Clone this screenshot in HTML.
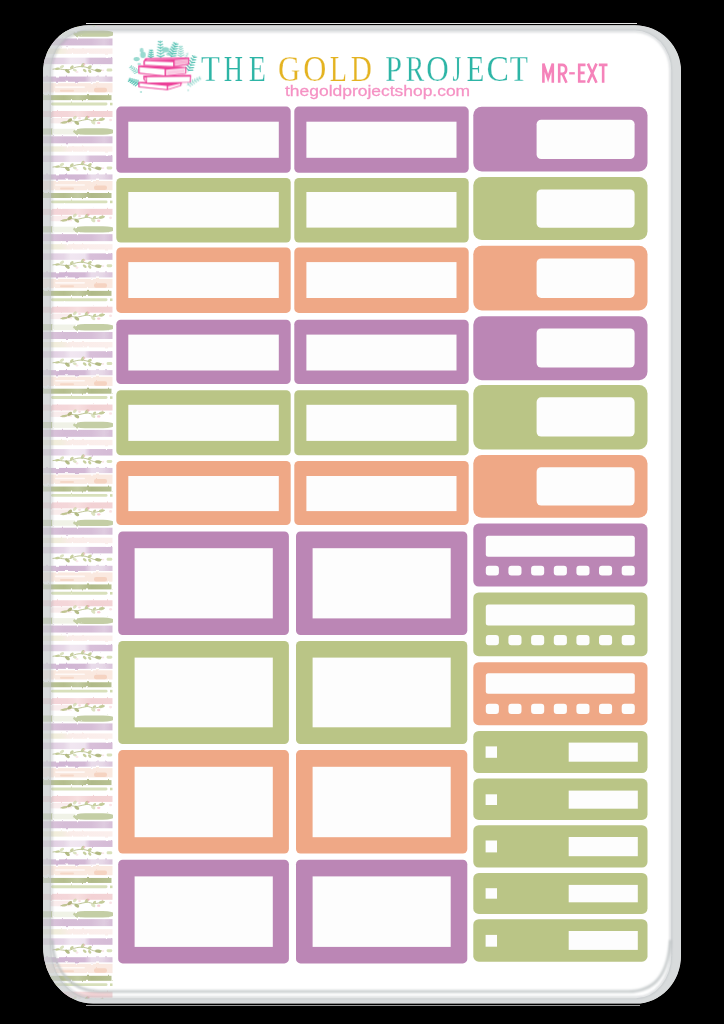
<!DOCTYPE html>
<html><head><meta charset="utf-8"><title>The Gold Project MR-EXT</title>
<style>
html,body{margin:0;padding:0;background:#000;}
body{width:724px;height:1024px;position:relative;overflow:hidden;font-family:"Liberation Sans",sans-serif;}
#sheet{position:absolute;left:0;top:0;width:724px;height:1024px;}
#st div{position:absolute;}
.t{position:absolute;white-space:nowrap;line-height:1;}
.serif{font-family:"Liberation Serif",serif;font-size:35px;}
</style></head><body>
<div style="position:absolute;left:86px;top:23px;width:551px;height:1px;background:#e6e6e6"></div>
<div style="position:absolute;left:86px;top:1005px;width:554px;height:1px;background:#9a9a9a"></div>
<svg id="sheet" viewBox="0 0 724 1024" width="724" height="1024">
<defs><clipPath id="shc"><path d="M43 72.2A45 47 0 0 1 88 25.2H635A46 46 0 0 1 681 71.2V955.6A45 48 0 0 1 636 1003.6H93A50 57 0 0 1 43 946.6Z"/></clipPath></defs>
<path d="M43 72.2A45 47 0 0 1 88 25.2H635A46 46 0 0 1 681 71.2V955.6A45 48 0 0 1 636 1003.6H93A50 57 0 0 1 43 946.6Z" fill="#fff"/>
<g clip-path="url(#shc)">
<svg x="43" y="24.600" width="70" height="974.400" viewBox="43 24.600 70 974.400">
<defs>
<filter id="wc" x="-5%" y="-5%" width="110%" height="110%"><feTurbulence type="fractalNoise" baseFrequency="0.2 0.07" numOctaves="2" seed="7" result="n"/><feDisplacementMap in="SourceGraphic" in2="n" scale="2.0" xChannelSelector="R" yChannelSelector="G"/><feGaussianBlur stdDeviation="0.55"/></filter>
<filter id="wc2" x="-5%" y="-20%" width="110%" height="140%"><feGaussianBlur stdDeviation="0.5"/></filter>
<linearGradient id="gPink"><stop offset="0" stop-color="#F2CED2"/><stop offset="0.35" stop-color="#F3D0D3"/><stop offset="0.5" stop-color="#F6DADB"/><stop offset="0.7" stop-color="#F1CACD"/><stop offset="1" stop-color="#F2CDD0"/></linearGradient>
<linearGradient id="gPur1"><stop offset="0" stop-color="#D6BDD7"/><stop offset="0.3" stop-color="#CFB2D0"/><stop offset="0.7" stop-color="#D0B4D1"/><stop offset="0.88" stop-color="#DAC4DB"/><stop offset="1" stop-color="#D0B3D1"/></linearGradient>
<linearGradient id="gCream"><stop offset="0" stop-color="#ECEBD2"/><stop offset="0.25" stop-color="#F0EBD8"/><stop offset="0.4" stop-color="#FAEAE6"/><stop offset="1" stop-color="#FBEDEA"/></linearGradient>
<linearGradient id="gPur2"><stop offset="0" stop-color="#D9C2DA"/><stop offset="0.3" stop-color="#E2D0E3"/><stop offset="0.4" stop-color="#EFE3EF"/><stop offset="0.6" stop-color="#ECDFED"/><stop offset="0.68" stop-color="#D2B5D3"/><stop offset="1" stop-color="#CFB1D0"/></linearGradient>
<linearGradient id="gPur3"><stop offset="0" stop-color="#D9C3DA"/><stop offset="0.25" stop-color="#C9A9CC"/><stop offset="0.6" stop-color="#CCAECF"/><stop offset="0.7" stop-color="#E6D6E7"/><stop offset="0.85" stop-color="#E3D2E4"/><stop offset="1" stop-color="#D3B9D4"/></linearGradient>
<linearGradient id="gOlive"><stop offset="0" stop-color="#B3BD8A"/><stop offset="0.3" stop-color="#A8B37A"/><stop offset="0.5" stop-color="#B7C190"/><stop offset="0.7" stop-color="#A3AE74"/><stop offset="1" stop-color="#ADB882"/></linearGradient>
<g id="per"><g filter="url(#wc)" opacity="0.86">
<rect x="43" y="111" width="69.500" height="6" fill="url(#gPink)"/>
<rect x="50" y="118" width="22" height="5.400" fill="#F8E4E4" opacity="0.8"/>
<rect x="43" y="128.400" width="9.500" height="6.200" fill="#B9C494"/>
<rect x="52" y="128.800" width="24" height="5.600" fill="#EEF1E4"/>
<rect x="73" y="128.300" width="42" height="6.400" rx="12" ry="3.200" fill="#BBC697"/>
<rect x="43" y="136.300" width="69.500" height="7" fill="url(#gPur1)"/>
<rect x="43" y="146.300" width="69.500" height="5.400" fill="url(#gCream)"/>
<rect x="43" y="155.500" width="69.500" height="6.500" fill="url(#gPur2)"/>
<rect x="43" y="174.400" width="69.500" height="5.200" fill="url(#gPur3)"/>
<rect x="43" y="181" width="69.500" height="9.300" fill="#FAE6DC"/>
<rect x="55" y="184.200" width="30" height="1.600" rx="0.800" fill="#fff" opacity="0.7"/>
<rect x="94" y="185.500" width="13" height="4.500" rx="2" fill="#F3C9B4" opacity="0.9"/>
<rect x="60" y="187.500" width="14" height="2" rx="1" fill="#F3CDB9" opacity="0.8"/>
<rect x="43" y="193" width="69.500" height="5" fill="url(#gOlive)"/>
<rect x="51" y="200.400" width="56.500" height="2.900" rx="1.400" fill="#D2DBB0"/>
<rect x="110" y="200.600" width="2.500" height="2.600" fill="#C9D3A0"/>
</g><g filter="url(#wc2)" opacity="0.72">
<path d="M52.900 167 C60 165.500 66 169.500 72 166.500 S85 164 90 166.500 S98 168.500 101.600 168" fill="none" stroke="#8C9848" stroke-width="0.9" stroke-linecap="round" opacity="0.85"/>
<ellipse cx="61.9" cy="164.6" rx="2.4" ry="1.43" transform="rotate(-30 61.9 164.6)" fill="#C9D3A0" opacity="0.9"/>
<ellipse cx="57.5" cy="166.6" rx="2.4" ry="1.17" transform="rotate(-10 57.5 166.6)" fill="#A9B56C" opacity="0.9"/>
<ellipse cx="67.4" cy="168.9" rx="2.76" ry="1.56" transform="rotate(35 67.4 168.9)" fill="#8C9848" opacity="0.9"/>
<ellipse cx="71.8" cy="165.0" rx="2.16" ry="1.3" transform="rotate(-40 71.8 165.0)" fill="#A9B56C" opacity="0.9"/>
<ellipse cx="74.8" cy="168.0" rx="2.16" ry="1.3" transform="rotate(20 74.8 168.0)" fill="#C9D3A0" opacity="0.9"/>
<ellipse cx="82.8" cy="163.0" rx="2.4" ry="1.56" transform="rotate(-50 82.8 163.0)" fill="#A9B56C" opacity="0.9"/>
<ellipse cx="84.7" cy="168.4" rx="2.16" ry="1.3" transform="rotate(40 84.7 168.4)" fill="#A9B56C" opacity="0.9"/>
<ellipse cx="89.7" cy="164.9" rx="2.28" ry="1.43" transform="rotate(-30 89.7 164.9)" fill="#A9B56C" opacity="0.9"/>
<ellipse cx="89.7" cy="169.0" rx="2.04" ry="1.3" transform="rotate(50 89.7 169.0)" fill="#A9B56C" opacity="0.9"/>
<ellipse cx="98.2" cy="168.4" rx="3.12" ry="1.69" transform="rotate(10 98.2 168.4)" fill="#8C9848" opacity="0.9"/>
<ellipse cx="84.3" cy="162.3" rx="1.08" ry="0.91" transform="rotate(0 84.3 162.3)" fill="#EFB4BC" opacity="0.9"/>
<ellipse cx="77" cy="169.8" rx="1.44" ry="1.04" transform="rotate(0 77 169.8)" fill="#F6DADF" opacity="0.9"/>
<ellipse cx="103" cy="168.2" rx="1.2" ry="0.91" transform="rotate(0 103 168.2)" fill="#F6DADF" opacity="0.9"/>
<rect x="106.600" y="166.400" width="5.700" height="3" rx="1.400" fill="#CBD6A2"/>
<path d="M60.900 122.900 C64 122.500 67 121.300 69.800 120.900 S75 121.800 77.800 121.400 S84 119.600 86.700 119.400 S92 121.200 94.700 120.900 S101 119.400 104.600 118.900" fill="none" stroke="#8C9848" stroke-width="0.9" stroke-linecap="round" opacity="0.85"/>
<ellipse cx="64.5" cy="122.5" rx="3.12" ry="1.17" transform="rotate(-8 64.5 122.5)" fill="#A9B56C" opacity="0.9"/>
<ellipse cx="69.8" cy="120.3" rx="2.64" ry="1.56" transform="rotate(-35 69.8 120.3)" fill="#8C9848" opacity="0.9"/>
<ellipse cx="76.8" cy="122.9" rx="2.64" ry="1.56" transform="rotate(30 76.8 122.9)" fill="#8C9848" opacity="0.9"/>
<ellipse cx="74.8" cy="117.6" rx="2.28" ry="1.43" transform="rotate(-40 74.8 117.6)" fill="#C9D3A0" opacity="0.9"/>
<ellipse cx="86.7" cy="118.0" rx="2.4" ry="1.56" transform="rotate(-45 86.7 118.0)" fill="#A9B56C" opacity="0.9"/>
<ellipse cx="93.2" cy="122.5" rx="2.4" ry="1.56" transform="rotate(35 93.2 122.5)" fill="#C9D3A0" opacity="0.9"/>
<ellipse cx="94.5" cy="119.5" rx="1.8" ry="1.17" transform="rotate(-30 94.5 119.5)" fill="#A9B56C" opacity="0.9"/>
<ellipse cx="101.6" cy="119.4" rx="2.76" ry="1.56" transform="rotate(-10 101.6 119.4)" fill="#A9B56C" opacity="0.9"/>
<ellipse cx="88.4" cy="117.0" rx="1.2" ry="1.04" transform="rotate(0 88.4 117.0)" fill="#E9A0AE" opacity="0.9"/>
<ellipse cx="98.7" cy="122.9" rx="1.68" ry="1.17" transform="rotate(0 98.7 122.9)" fill="#EFB4BC" opacity="0.9"/>
<ellipse cx="110.6" cy="120" rx="1.44" ry="1.3" transform="rotate(0 110.6 120)" fill="#F6D5D8" opacity="0.9"/>
<ellipse cx="79.5" cy="118.3" rx="1.44" ry="1.04" transform="rotate(0 79.5 118.3)" fill="#F3C6CC" opacity="0.8"/>
</g></g>
</defs>
<use href="#per" transform="translate(0 -97.85)"/>
<use href="#per" transform="translate(0 0.00)"/>
<use href="#per" transform="translate(0 97.85)"/>
<use href="#per" transform="translate(0 195.70)"/>
<use href="#per" transform="translate(0 293.55)"/>
<use href="#per" transform="translate(0 391.40)"/>
<use href="#per" transform="translate(0 489.25)"/>
<use href="#per" transform="translate(0 587.10)"/>
<use href="#per" transform="translate(0 684.95)"/>
<use href="#per" transform="translate(0 782.80)"/>
<use href="#per" transform="translate(0 880.65)"/>
</svg>
</g>
</svg>
<svg style="position:absolute;left:0;top:0" width="724" height="1024" viewBox="0 0 724 1024">
<defs><filter id="bl" x="-5%" y="-5%" width="110%" height="110%"><feGaussianBlur stdDeviation="0.8"/></filter>
</defs>
<g clip-path="url(#shc)">
<path fill-rule="evenodd" fill="rgba(198,202,204,0.68)" d="M43 72.2A45 47 0 0 1 88 25.2H635A46 46 0 0 1 681 71.2V955.6A45 48 0 0 1 636 1003.6H93A50 57 0 0 1 43 946.6Z M51 71.6A37 41 0 0 1 88 30.6H635.0A36.2 40 0 0 1 671.2 70.6V955.6A35.2 42.6 0 0 1 636.0 998.2H93A42 51.6 0 0 1 51 946.6Z"/>
<path fill="none" stroke="rgba(165,172,175,0.5)" stroke-width="2.0" filter="url(#bl)" d="M51.6 71.6A36.4 40.4 0 0 1 88.0 31.2H635.0A35.6 39.4 0 0 1 670.6 70.6V955.6A34.6 42 0 0 1 636.0 997.6H93.0A41.4 51 0 0 1 51.6 946.6Z"/>
<path fill="none" stroke="rgba(185,190,192,0.85)" stroke-width="2.6" filter="url(#bl)" d="M52 940 C 54 975, 75 991.5, 100 991.5 H 628 C 655 991.500, 668 975, 670.500 940"/>
</g>
</svg>
<svg style="position:absolute;left:125px;top:35px" width="80" height="60" viewBox="0 0 724 543"><defs><filter id="lb"><feGaussianBlur stdDeviation="2.6"/></filter></defs><g filter="url(#lb)">
<path d="M322 215L318 48" stroke="#4FBFB0" stroke-width="3.5" fill="none" opacity="0.8" stroke-linecap="round"/>
<path d="M321.6 199.1L353.4 183.1" stroke="#4FBFB0" stroke-width="11.0" stroke-linecap="round" opacity="0.8"/>
<path d="M321.6 199.1L289.1 184.6" stroke="#4FBFB0" stroke-width="11.0" stroke-linecap="round" opacity="0.8"/>
<path d="M321.0 172.6L349.8 158.1" stroke="#4FBFB0" stroke-width="11.0" stroke-linecap="round" opacity="0.8"/>
<path d="M321.0 172.6L291.5 159.5" stroke="#4FBFB0" stroke-width="11.0" stroke-linecap="round" opacity="0.8"/>
<path d="M320.3 146.1L346.3 133.0" stroke="#4FBFB0" stroke-width="11.0" stroke-linecap="round" opacity="0.8"/>
<path d="M320.3 146.1L293.8 134.3" stroke="#4FBFB0" stroke-width="11.0" stroke-linecap="round" opacity="0.8"/>
<path d="M319.7 119.6L342.7 108.0" stroke="#4FBFB0" stroke-width="11.0" stroke-linecap="round" opacity="0.8"/>
<path d="M319.7 119.6L296.2 109.1" stroke="#4FBFB0" stroke-width="11.0" stroke-linecap="round" opacity="0.8"/>
<path d="M319.1 93.1L339.1 83.0" stroke="#4FBFB0" stroke-width="11.0" stroke-linecap="round" opacity="0.8"/>
<path d="M319.1 93.1L298.6 83.9" stroke="#4FBFB0" stroke-width="11.0" stroke-linecap="round" opacity="0.8"/>
<path d="M318.4 66.6L335.6 57.9" stroke="#4FBFB0" stroke-width="11.0" stroke-linecap="round" opacity="0.8"/>
<path d="M318.4 66.6L300.9 58.8" stroke="#4FBFB0" stroke-width="11.0" stroke-linecap="round" opacity="0.8"/>
<path d="M415 205L462 68" stroke="#4FBFB0" stroke-width="3.5" fill="none" opacity="0.9" stroke-linecap="round"/>
<path d="M419.5 192.0L459.0 187.5" stroke="#4FBFB0" stroke-width="12.100000000000001" stroke-linecap="round" opacity="0.9"/>
<path d="M419.5 192.0L391.0 164.2" stroke="#4FBFB0" stroke-width="12.100000000000001" stroke-linecap="round" opacity="0.9"/>
<path d="M426.9 170.2L462.8 166.2" stroke="#4FBFB0" stroke-width="12.100000000000001" stroke-linecap="round" opacity="0.9"/>
<path d="M426.9 170.2L401.1 145.0" stroke="#4FBFB0" stroke-width="12.100000000000001" stroke-linecap="round" opacity="0.9"/>
<path d="M434.4 148.5L466.6 144.8" stroke="#4FBFB0" stroke-width="12.100000000000001" stroke-linecap="round" opacity="0.9"/>
<path d="M434.4 148.5L411.2 125.8" stroke="#4FBFB0" stroke-width="12.100000000000001" stroke-linecap="round" opacity="0.9"/>
<path d="M441.9 126.7L470.4 123.5" stroke="#4FBFB0" stroke-width="12.100000000000001" stroke-linecap="round" opacity="0.9"/>
<path d="M441.9 126.7L421.3 106.6" stroke="#4FBFB0" stroke-width="12.100000000000001" stroke-linecap="round" opacity="0.9"/>
<path d="M449.3 105.0L474.3 102.2" stroke="#4FBFB0" stroke-width="12.100000000000001" stroke-linecap="round" opacity="0.9"/>
<path d="M449.3 105.0L431.3 87.4" stroke="#4FBFB0" stroke-width="12.100000000000001" stroke-linecap="round" opacity="0.9"/>
<path d="M456.8 83.2L478.1 80.8" stroke="#4FBFB0" stroke-width="12.100000000000001" stroke-linecap="round" opacity="0.9"/>
<path d="M456.8 83.2L441.4 68.3" stroke="#4FBFB0" stroke-width="12.100000000000001" stroke-linecap="round" opacity="0.9"/>
<path d="M505 205L503 95" stroke="#8ED6CB" stroke-width="3.5" fill="none" opacity="0.9" stroke-linecap="round"/>
<path d="M504.8 192.5L532.6 178.7" stroke="#8ED6CB" stroke-width="9.9" stroke-linecap="round" opacity="0.9"/>
<path d="M504.8 192.5L476.5 179.8" stroke="#8ED6CB" stroke-width="9.9" stroke-linecap="round" opacity="0.9"/>
<path d="M504.4 171.8L529.1 159.5" stroke="#8ED6CB" stroke-width="9.9" stroke-linecap="round" opacity="0.9"/>
<path d="M504.4 171.8L479.2 160.4" stroke="#8ED6CB" stroke-width="9.9" stroke-linecap="round" opacity="0.9"/>
<path d="M504.0 151.0L525.7 140.3" stroke="#8ED6CB" stroke-width="9.9" stroke-linecap="round" opacity="0.9"/>
<path d="M504.0 151.0L482.0 141.1" stroke="#8ED6CB" stroke-width="9.9" stroke-linecap="round" opacity="0.9"/>
<path d="M503.6 130.3L522.2 121.1" stroke="#8ED6CB" stroke-width="9.9" stroke-linecap="round" opacity="0.9"/>
<path d="M503.6 130.3L484.7 121.7" stroke="#8ED6CB" stroke-width="9.9" stroke-linecap="round" opacity="0.9"/>
<path d="M503.3 109.5L518.8 101.8" stroke="#8ED6CB" stroke-width="9.9" stroke-linecap="round" opacity="0.9"/>
<path d="M503.3 109.5L487.5 102.4" stroke="#8ED6CB" stroke-width="9.9" stroke-linecap="round" opacity="0.9"/>
<path d="M232 215L236 130" stroke="#4FBFB0" stroke-width="3.5" fill="none" opacity="0.9" stroke-linecap="round"/>
<path d="M232.6 203.1L257.0 192.9" stroke="#4FBFB0" stroke-width="11.0" stroke-linecap="round" opacity="0.9"/>
<path d="M232.6 203.1L209.2 190.7" stroke="#4FBFB0" stroke-width="11.0" stroke-linecap="round" opacity="0.9"/>
<path d="M233.5 183.4L254.6 174.6" stroke="#4FBFB0" stroke-width="11.0" stroke-linecap="round" opacity="0.9"/>
<path d="M233.5 183.4L213.3 172.6" stroke="#4FBFB0" stroke-width="11.0" stroke-linecap="round" opacity="0.9"/>
<path d="M234.4 163.6L252.1 156.2" stroke="#4FBFB0" stroke-width="11.0" stroke-linecap="round" opacity="0.9"/>
<path d="M234.4 163.6L217.5 154.6" stroke="#4FBFB0" stroke-width="11.0" stroke-linecap="round" opacity="0.9"/>
<path d="M235.3 143.8L249.6 137.9" stroke="#4FBFB0" stroke-width="11.0" stroke-linecap="round" opacity="0.9"/>
<path d="M235.3 143.8L221.7 136.6" stroke="#4FBFB0" stroke-width="11.0" stroke-linecap="round" opacity="0.9"/>
<path d="M545 215L568 160" stroke="#8ED6CB" stroke-width="3.5" fill="none" opacity="0.8" stroke-linecap="round"/>
<path d="M549.2 205.0L561.1 204.4" stroke="#8ED6CB" stroke-width="6.6000000000000005" stroke-linecap="round" opacity="0.8"/>
<path d="M549.2 205.0L541.2 196.1" stroke="#8ED6CB" stroke-width="6.6000000000000005" stroke-linecap="round" opacity="0.8"/>
<path d="M556.2 188.3L565.9 187.9" stroke="#8ED6CB" stroke-width="6.6000000000000005" stroke-linecap="round" opacity="0.8"/>
<path d="M556.2 188.3L549.7 181.1" stroke="#8ED6CB" stroke-width="6.6000000000000005" stroke-linecap="round" opacity="0.8"/>
<path d="M563.1 171.7L570.6 171.3" stroke="#8ED6CB" stroke-width="6.6000000000000005" stroke-linecap="round" opacity="0.8"/>
<path d="M563.1 171.7L558.1 166.1" stroke="#8ED6CB" stroke-width="6.6000000000000005" stroke-linecap="round" opacity="0.8"/>
<path d="M570 335L632 185" stroke="#4FBFB0" stroke-width="3.5" fill="none" opacity="0.9" stroke-linecap="round"/>
<path d="M575.9 320.7L613.5 318.8" stroke="#4FBFB0" stroke-width="11.0" stroke-linecap="round" opacity="0.9"/>
<path d="M575.9 320.7L550.6 292.8" stroke="#4FBFB0" stroke-width="11.0" stroke-linecap="round" opacity="0.9"/>
<path d="M585.7 296.9L619.9 295.2" stroke="#4FBFB0" stroke-width="11.0" stroke-linecap="round" opacity="0.9"/>
<path d="M585.7 296.9L562.8 271.6" stroke="#4FBFB0" stroke-width="11.0" stroke-linecap="round" opacity="0.9"/>
<path d="M595.6 273.1L626.3 271.5" stroke="#4FBFB0" stroke-width="11.0" stroke-linecap="round" opacity="0.9"/>
<path d="M595.6 273.1L575.0 250.3" stroke="#4FBFB0" stroke-width="11.0" stroke-linecap="round" opacity="0.9"/>
<path d="M605.4 249.3L632.6 247.9" stroke="#4FBFB0" stroke-width="11.0" stroke-linecap="round" opacity="0.9"/>
<path d="M605.4 249.3L587.1 229.1" stroke="#4FBFB0" stroke-width="11.0" stroke-linecap="round" opacity="0.9"/>
<path d="M615.3 225.5L639.0 224.3" stroke="#4FBFB0" stroke-width="11.0" stroke-linecap="round" opacity="0.9"/>
<path d="M615.3 225.5L599.3 207.9" stroke="#4FBFB0" stroke-width="11.0" stroke-linecap="round" opacity="0.9"/>
<path d="M625.1 201.7L645.4 200.6" stroke="#4FBFB0" stroke-width="11.0" stroke-linecap="round" opacity="0.9"/>
<path d="M625.1 201.7L611.5 186.6" stroke="#4FBFB0" stroke-width="11.0" stroke-linecap="round" opacity="0.9"/>
<path d="M128 445L32 402" stroke="#4FBFB0" stroke-width="3.5" fill="none" opacity="0.95" stroke-linecap="round"/>
<path d="M117.1 440.1L116.5 409.1" stroke="#4FBFB0" stroke-width="11.0" stroke-linecap="round" opacity="0.95"/>
<path d="M117.1 440.1L93.5 460.3" stroke="#4FBFB0" stroke-width="11.0" stroke-linecap="round" opacity="0.95"/>
<path d="M99.0 432.0L98.4 404.4" stroke="#4FBFB0" stroke-width="11.0" stroke-linecap="round" opacity="0.95"/>
<path d="M99.0 432.0L78.0 450.0" stroke="#4FBFB0" stroke-width="11.0" stroke-linecap="round" opacity="0.95"/>
<path d="M80.9 423.9L80.4 399.7" stroke="#4FBFB0" stroke-width="11.0" stroke-linecap="round" opacity="0.95"/>
<path d="M80.9 423.9L62.5 439.6" stroke="#4FBFB0" stroke-width="11.0" stroke-linecap="round" opacity="0.95"/>
<path d="M62.8 415.8L62.4 395.1" stroke="#4FBFB0" stroke-width="11.0" stroke-linecap="round" opacity="0.95"/>
<path d="M62.8 415.8L47.0 429.3" stroke="#4FBFB0" stroke-width="11.0" stroke-linecap="round" opacity="0.95"/>
<path d="M44.7 407.7L44.3 390.4" stroke="#4FBFB0" stroke-width="11.0" stroke-linecap="round" opacity="0.95"/>
<path d="M44.7 407.7L31.5 418.9" stroke="#4FBFB0" stroke-width="11.0" stroke-linecap="round" opacity="0.95"/>
<path d="M118 345L45 282" stroke="#8ED6CB" stroke-width="3.5" fill="none" opacity="0.85" stroke-linecap="round"/>
<path d="M109.7 337.9L116.9 311.9" stroke="#8ED6CB" stroke-width="9.9" stroke-linecap="round" opacity="0.85"/>
<path d="M109.7 337.9L85.1 348.8" stroke="#8ED6CB" stroke-width="9.9" stroke-linecap="round" opacity="0.85"/>
<path d="M96.0 326.0L102.3 302.9" stroke="#8ED6CB" stroke-width="9.9" stroke-linecap="round" opacity="0.85"/>
<path d="M96.0 326.0L74.1 335.7" stroke="#8ED6CB" stroke-width="9.9" stroke-linecap="round" opacity="0.85"/>
<path d="M82.2 314.1L87.8 293.9" stroke="#8ED6CB" stroke-width="9.9" stroke-linecap="round" opacity="0.85"/>
<path d="M82.2 314.1L63.0 322.6" stroke="#8ED6CB" stroke-width="9.9" stroke-linecap="round" opacity="0.85"/>
<path d="M68.4 302.2L73.2 284.9" stroke="#8ED6CB" stroke-width="9.9" stroke-linecap="round" opacity="0.85"/>
<path d="M68.4 302.2L52.0 309.5" stroke="#8ED6CB" stroke-width="9.9" stroke-linecap="round" opacity="0.85"/>
<path d="M54.6 290.3L58.6 275.9" stroke="#8ED6CB" stroke-width="9.9" stroke-linecap="round" opacity="0.85"/>
<path d="M54.6 290.3L40.9 296.4" stroke="#8ED6CB" stroke-width="9.9" stroke-linecap="round" opacity="0.85"/>
<path d="M560 455L688 385" stroke="#8ED6CB" stroke-width="3.5" fill="none" opacity="0.85" stroke-linecap="round"/>
<path d="M572.2 448.3L594.2 464.3" stroke="#8ED6CB" stroke-width="9.9" stroke-linecap="round" opacity="0.85"/>
<path d="M572.2 448.3L570.6 421.2" stroke="#8ED6CB" stroke-width="9.9" stroke-linecap="round" opacity="0.85"/>
<path d="M592.5 437.2L612.5 451.7" stroke="#8ED6CB" stroke-width="9.9" stroke-linecap="round" opacity="0.85"/>
<path d="M592.5 437.2L591.1 412.6" stroke="#8ED6CB" stroke-width="9.9" stroke-linecap="round" opacity="0.85"/>
<path d="M612.8 426.1L630.8 439.1" stroke="#8ED6CB" stroke-width="9.9" stroke-linecap="round" opacity="0.85"/>
<path d="M612.8 426.1L611.5 404.0" stroke="#8ED6CB" stroke-width="9.9" stroke-linecap="round" opacity="0.85"/>
<path d="M633.1 415.0L649.1 426.6" stroke="#8ED6CB" stroke-width="9.9" stroke-linecap="round" opacity="0.85"/>
<path d="M633.1 415.0L632.0 395.4" stroke="#8ED6CB" stroke-width="9.9" stroke-linecap="round" opacity="0.85"/>
<path d="M653.5 403.9L667.4 414.0" stroke="#8ED6CB" stroke-width="9.9" stroke-linecap="round" opacity="0.85"/>
<path d="M653.5 403.9L652.5 386.7" stroke="#8ED6CB" stroke-width="9.9" stroke-linecap="round" opacity="0.85"/>
<path d="M673.8 392.8L685.6 401.4" stroke="#8ED6CB" stroke-width="9.9" stroke-linecap="round" opacity="0.85"/>
<path d="M673.8 392.8L672.9 378.1" stroke="#8ED6CB" stroke-width="9.9" stroke-linecap="round" opacity="0.85"/>
<ellipse cx="366" cy="133" rx="34" ry="23" fill="#8ED6CB" opacity="0.95"/>
<ellipse cx="105" cy="218" rx="28" ry="19" fill="#8ED6CB" opacity="0.9"/>
<ellipse cx="162" cy="180" rx="25" ry="30" fill="#8ED6CB" opacity="0.9"/>
<ellipse cx="150" cy="138" rx="17" ry="21" fill="#8ED6CB" opacity="0.85"/>
<ellipse cx="395" cy="172" rx="22" ry="14" fill="#8ED6CB" opacity="0.7"/>
<ellipse cx="128" cy="262" rx="16" ry="12" fill="#8ED6CB" opacity="0.6"/>
<ellipse cx="145" cy="515" rx="9" ry="9" fill="#8ED6CB" opacity="0.8"/>
<ellipse cx="572" cy="500" rx="8" ry="8" fill="#8ED6CB" opacity="0.7"/>
<path d="M124 428L512 432L506 458L382 496L124 470Z" fill="#EC3F98" stroke="#EC3F98" stroke-width="6" stroke-linejoin="round" opacity="1"/>
<path d="M132 437L378 462L378 491L132 466Z" fill="#fff" opacity="1"/>
<path d="M390 464L502 438L500 456L390 491Z" fill="#FDEAF3" opacity="1"/>
<path d="M168 370L596 364L591 427L202 437L170 402Z" fill="#EC3F98" stroke="#EC3F98" stroke-width="6" stroke-linejoin="round" opacity="1"/>
<path d="M198 381L588 377L586 424L200 431Z" fill="#fff" opacity="1"/>
<path d="M176 385L194 385L194 425L178 400Z" fill="#F9C4DE" opacity="1"/>
<path d="M122 277L554 293L551 348L365 371L124 347Z" fill="#EC3F98" stroke="#EC3F98" stroke-width="6" stroke-linejoin="round" opacity="1"/>
<path d="M131 291L358 310L358 365L132 342Z" fill="#fff" opacity="1"/>
<path d="M372 314L546 299L545 345L372 365Z" fill="#FDE3F0" opacity="1"/>
<path d="M385 332L535 316" stroke="#F27DB8" stroke-width="3" opacity="0.8"/>
<path d="M385 342L535 326" stroke="#F27DB8" stroke-width="3" opacity="0.8"/>
<path d="M385 352L535 336" stroke="#F27DB8" stroke-width="3" opacity="0.8"/>
<path d="M170 238L186 213L579 206L577 267L445 287L170 271Z" fill="#EC3F98" stroke="#EC3F98" stroke-width="6" stroke-linejoin="round" opacity="1"/>
<path d="M180 238L436 246L436 282L180 268Z" fill="#fff" opacity="1"/>
<path d="M450 228L570 217L570 262L450 281Z" fill="#FACDE3" opacity="1"/>
<path d="M455 240L565 229" stroke="#EC3F98" stroke-width="3" opacity="0.7"/>
<path d="M455 251L565 240" stroke="#EC3F98" stroke-width="3" opacity="0.7"/>
<path d="M455 262L565 251" stroke="#EC3F98" stroke-width="3" opacity="0.7"/>
<path d="M200 218L560 211L440 222L190 232Z" fill="#F59CC8" opacity="1"/>
</g></svg>
<svg style="position:absolute;left:0;top:0" width="724" height="120" viewBox="0 0 724 120"><g font-family="Liberation Serif, serif" font-size="35.7">
<text transform="translate(200.88,80.6) scale(0.864,1)" fill="#2DB5A6" stroke="#fff" stroke-width="0.25">T</text>
<text transform="translate(223.70,80.6) scale(0.747,1)" fill="#2DB5A6" stroke="#fff" stroke-width="0.25">H</text>
<text transform="translate(248.76,80.6) scale(0.787,1)" fill="#2DB5A6" stroke="#fff" stroke-width="0.25">E</text>
<text transform="translate(278.07,80.6) scale(0.862,1)" fill="#E4B321" stroke="#fff" stroke-width="0.25">G</text>
<text transform="translate(303.32,80.6) scale(0.897,1)" fill="#E4B321" stroke="#fff" stroke-width="0.25">O</text>
<text transform="translate(329.65,80.6) scale(0.792,1)" fill="#E4B321" stroke="#fff" stroke-width="0.25">L</text>
<text transform="translate(350.82,80.6) scale(0.819,1)" fill="#E4B321" stroke="#fff" stroke-width="0.25">D</text>
<text transform="translate(385.29,80.6) scale(0.846,1)" fill="#2DB5A6" stroke="#fff" stroke-width="0.25">P</text>
<text transform="translate(405.67,80.6) scale(0.775,1)" fill="#2DB5A6" stroke="#fff" stroke-width="0.25">R</text>
<text transform="translate(426.26,80.6) scale(0.871,1)" fill="#2DB5A6" stroke="#fff" stroke-width="0.25">O</text>
<text transform="translate(452.45,80.6) scale(0.624,1)" fill="#2DB5A6" stroke="#fff" stroke-width="0.25">J</text>
<text transform="translate(466.42,80.6) scale(0.819,1)" fill="#2DB5A6" stroke="#fff" stroke-width="0.25">E</text>
<text transform="translate(486.45,80.6) scale(0.944,1)" fill="#2DB5A6" stroke="#fff" stroke-width="0.25">C</text>
<text transform="translate(509.81,80.6) scale(0.831,1)" fill="#2DB5A6" stroke="#fff" stroke-width="0.25">T</text>
</g></svg>
<div class="t" id="url" style="left:284.500px;top:82.500px;font-size:15.500px;letter-spacing:0;transform:scaleX(1.125);transform-origin:0 0;-webkit-text-stroke:0.28px #F592C4;color:#F592C4;">thegoldprojectshop.com</div>
<svg style="position:absolute;left:538px;top:58px" width="76" height="30" viewBox="538 58 76 30">
<g fill="none" stroke="#F583BA" stroke-width="2.6" stroke-linejoin="miter">
<path d="M543.400 82.800V63.600L548.100 78.200L552.800 63.600V82.800"/>
<path d="M559.200 82.800V64.900H562.300a3.800 3.800 0 0 1 3.800 3.800v1.400a3.800 3.800 0 0 1-3.800 3.800H559.200M562.600 73.900L566.500 82.800"/>
<path d="M569.200 73.300H574.800" stroke-width="2.3"/>
<path d="M585.500 64.900H579.200V81.500H585.500M579.200 72.900H584.600"/>
<path d="M587.900 63.600L596.500 82.800M596.500 63.600L587.900 82.800"/>
<path d="M598.800 64.900H607.500M603.150 64.900V82.800"/>
</g></svg>
<div id="st">
<svg style="position:absolute;left:0;top:0" width="724" height="1024" viewBox="0 0 724 1024">
<rect x="116.3" y="106.6" width="174.4" height="66.2" rx="4.5" fill="#BB86B5"/>
<rect x="128.3" y="121.7" width="150.5" height="36.1" fill="#FDFDFD"/>
<rect x="294.3" y="106.6" width="174.4" height="66.2" rx="4.5" fill="#BB86B5"/>
<rect x="306.4" y="121.7" width="150.1" height="36.1" fill="#FDFDFD"/>
<rect x="116.3" y="178.0" width="174.4" height="64.6" rx="4.5" fill="#BAC586"/>
<rect x="128.3" y="192.0" width="150.5" height="35.6" fill="#FDFDFD"/>
<rect x="294.3" y="178.0" width="174.4" height="64.6" rx="4.5" fill="#BAC586"/>
<rect x="306.4" y="192.0" width="150.1" height="35.6" fill="#FDFDFD"/>
<rect x="116.3" y="247.5" width="174.4" height="65.4" rx="4.5" fill="#EFA886"/>
<rect x="128.3" y="262.1" width="150.5" height="35.9" fill="#FDFDFD"/>
<rect x="294.3" y="247.5" width="174.4" height="65.4" rx="4.5" fill="#EFA886"/>
<rect x="306.4" y="262.1" width="150.1" height="35.9" fill="#FDFDFD"/>
<rect x="116.3" y="319.7" width="174.4" height="64.3" rx="4.5" fill="#BB86B5"/>
<rect x="128.3" y="334.6" width="150.5" height="35.9" fill="#FDFDFD"/>
<rect x="294.3" y="319.7" width="174.4" height="64.3" rx="4.5" fill="#BB86B5"/>
<rect x="306.4" y="334.6" width="150.1" height="35.9" fill="#FDFDFD"/>
<rect x="116.3" y="390.2" width="174.4" height="65.0" rx="4.5" fill="#BAC586"/>
<rect x="128.3" y="404.8" width="150.5" height="36.1" fill="#FDFDFD"/>
<rect x="294.3" y="390.2" width="174.4" height="65.0" rx="4.5" fill="#BAC586"/>
<rect x="306.4" y="404.8" width="150.1" height="36.1" fill="#FDFDFD"/>
<rect x="116.3" y="461.0" width="174.4" height="64.0" rx="4.5" fill="#EFA886"/>
<rect x="128.3" y="476.0" width="150.5" height="35.1" fill="#FDFDFD"/>
<rect x="294.3" y="461.0" width="174.4" height="64.0" rx="4.5" fill="#EFA886"/>
<rect x="306.4" y="476.0" width="150.1" height="35.1" fill="#FDFDFD"/>
<rect x="118.2" y="531.5" width="170.7" height="103.5" rx="4.5" fill="#BB86B5"/>
<rect x="134.6" y="548.2" width="138.2" height="70.2" fill="#FDFDFD"/>
<rect x="296.0" y="531.5" width="171.3" height="103.5" rx="4.5" fill="#BB86B5"/>
<rect x="312.6" y="548.2" width="138.1" height="70.2" fill="#FDFDFD"/>
<rect x="118.2" y="640.9" width="170.7" height="103.1" rx="4.5" fill="#BAC586"/>
<rect x="134.6" y="657.6" width="138.2" height="69.7" fill="#FDFDFD"/>
<rect x="296.0" y="640.9" width="171.3" height="103.1" rx="4.5" fill="#BAC586"/>
<rect x="312.6" y="657.6" width="138.1" height="69.7" fill="#FDFDFD"/>
<rect x="118.2" y="750.1" width="170.7" height="103.4" rx="4.5" fill="#EFA886"/>
<rect x="134.6" y="766.8" width="138.2" height="70.4" fill="#FDFDFD"/>
<rect x="296.0" y="750.1" width="171.3" height="103.4" rx="4.5" fill="#EFA886"/>
<rect x="312.6" y="766.8" width="138.1" height="70.4" fill="#FDFDFD"/>
<rect x="118.2" y="859.8" width="170.7" height="103.6" rx="4.5" fill="#BB86B5"/>
<rect x="134.6" y="876.4" width="138.2" height="70.5" fill="#FDFDFD"/>
<rect x="296.0" y="859.8" width="171.3" height="103.6" rx="4.5" fill="#BB86B5"/>
<rect x="312.6" y="876.4" width="138.1" height="70.5" fill="#FDFDFD"/>
<rect x="473.3" y="106.8" width="174.2" height="64.7" rx="8.5" fill="#BB86B5"/>
<rect x="536.6" y="119.7" width="98.0" height="39.3" rx="4.6" fill="#FDFDFD"/>
<rect x="473.3" y="177.0" width="174.2" height="62.9" rx="8.5" fill="#BAC586"/>
<rect x="536.6" y="189.5" width="98.0" height="38.3" rx="4.6" fill="#FDFDFD"/>
<rect x="473.3" y="245.8" width="174.2" height="64.8" rx="8.5" fill="#EFA886"/>
<rect x="536.6" y="258.5" width="98.0" height="39.4" rx="4.6" fill="#FDFDFD"/>
<rect x="473.3" y="316.3" width="174.2" height="64.0" rx="8.5" fill="#BB86B5"/>
<rect x="536.6" y="328.5" width="98.0" height="39.0" rx="4.6" fill="#FDFDFD"/>
<rect x="473.3" y="385.1" width="174.2" height="64.3" rx="8.5" fill="#BAC586"/>
<rect x="536.6" y="397.3" width="98.0" height="39.3" rx="4.6" fill="#FDFDFD"/>
<rect x="473.3" y="455.0" width="174.2" height="62.7" rx="8.5" fill="#EFA886"/>
<rect x="536.6" y="467.2" width="98.0" height="38.3" rx="4.6" fill="#FDFDFD"/>
<rect x="473.3" y="523.6" width="174.2" height="62.9" rx="5.5" fill="#BB86B5"/>
<rect x="485.8" y="535.7" width="149.0" height="21.0" rx="2.5" fill="#FDFDFD"/>
<rect x="485.8" y="565.8" width="13.1" height="9.8" rx="3" fill="#FDFDFD"/>
<rect x="508.4" y="565.8" width="13.1" height="9.8" rx="3" fill="#FDFDFD"/>
<rect x="531.1" y="565.8" width="13.1" height="9.8" rx="3" fill="#FDFDFD"/>
<rect x="553.8" y="565.8" width="13.1" height="9.8" rx="3" fill="#FDFDFD"/>
<rect x="576.4" y="565.8" width="13.1" height="9.8" rx="3" fill="#FDFDFD"/>
<rect x="599.0" y="565.8" width="13.1" height="9.8" rx="3" fill="#FDFDFD"/>
<rect x="621.7" y="565.8" width="13.1" height="9.8" rx="3" fill="#FDFDFD"/>
<rect x="473.3" y="592.4" width="174.2" height="63.8" rx="5.5" fill="#BAC586"/>
<rect x="485.8" y="604.5" width="149.0" height="21.0" rx="2.5" fill="#FDFDFD"/>
<rect x="485.8" y="634.9" width="13.1" height="10.3" rx="3" fill="#FDFDFD"/>
<rect x="508.4" y="634.9" width="13.1" height="10.3" rx="3" fill="#FDFDFD"/>
<rect x="531.1" y="634.9" width="13.1" height="10.3" rx="3" fill="#FDFDFD"/>
<rect x="553.8" y="634.9" width="13.1" height="10.3" rx="3" fill="#FDFDFD"/>
<rect x="576.4" y="634.9" width="13.1" height="10.3" rx="3" fill="#FDFDFD"/>
<rect x="599.0" y="634.9" width="13.1" height="10.3" rx="3" fill="#FDFDFD"/>
<rect x="621.7" y="634.9" width="13.1" height="10.3" rx="3" fill="#FDFDFD"/>
<rect x="473.3" y="662.2" width="174.2" height="63.0" rx="5.5" fill="#EFA886"/>
<rect x="485.8" y="673.2" width="149.0" height="20.5" rx="2.5" fill="#FDFDFD"/>
<rect x="485.8" y="703.7" width="13.1" height="10.2" rx="3" fill="#FDFDFD"/>
<rect x="508.4" y="703.7" width="13.1" height="10.2" rx="3" fill="#FDFDFD"/>
<rect x="531.1" y="703.7" width="13.1" height="10.2" rx="3" fill="#FDFDFD"/>
<rect x="553.8" y="703.7" width="13.1" height="10.2" rx="3" fill="#FDFDFD"/>
<rect x="576.4" y="703.7" width="13.1" height="10.2" rx="3" fill="#FDFDFD"/>
<rect x="599.0" y="703.7" width="13.1" height="10.2" rx="3" fill="#FDFDFD"/>
<rect x="621.7" y="703.7" width="13.1" height="10.2" rx="3" fill="#FDFDFD"/>
<rect x="473.3" y="731.0" width="174.2" height="42.1" rx="5.5" fill="#BAC586"/>
<rect x="485.6" y="746.4" width="11.4" height="11.4" fill="#FDFDFD"/>
<rect x="568.7" y="742.6" width="69.1" height="19.1" fill="#FDFDFD"/>
<rect x="473.3" y="778.6" width="174.2" height="41.3" rx="5.5" fill="#BAC586"/>
<rect x="485.6" y="794.3" width="11.4" height="10.7" fill="#FDFDFD"/>
<rect x="568.7" y="790.6" width="69.1" height="18.1" fill="#FDFDFD"/>
<rect x="473.3" y="825.2" width="174.2" height="42.4" rx="5.5" fill="#BAC586"/>
<rect x="485.6" y="840.5" width="11.4" height="11.9" fill="#FDFDFD"/>
<rect x="568.7" y="837.0" width="69.1" height="19.2" fill="#FDFDFD"/>
<rect x="473.3" y="873.0" width="174.2" height="40.9" rx="5.5" fill="#BAC586"/>
<rect x="485.6" y="888.2" width="11.4" height="10.5" fill="#FDFDFD"/>
<rect x="568.7" y="884.9" width="69.1" height="17.4" fill="#FDFDFD"/>
<rect x="473.3" y="919.2" width="174.2" height="42.5" rx="5.5" fill="#BAC586"/>
<rect x="485.6" y="934.9" width="11.4" height="11.8" fill="#FDFDFD"/>
<rect x="568.7" y="931.0" width="69.1" height="18.9" fill="#FDFDFD"/>
</svg>
</div>
</body></html>
